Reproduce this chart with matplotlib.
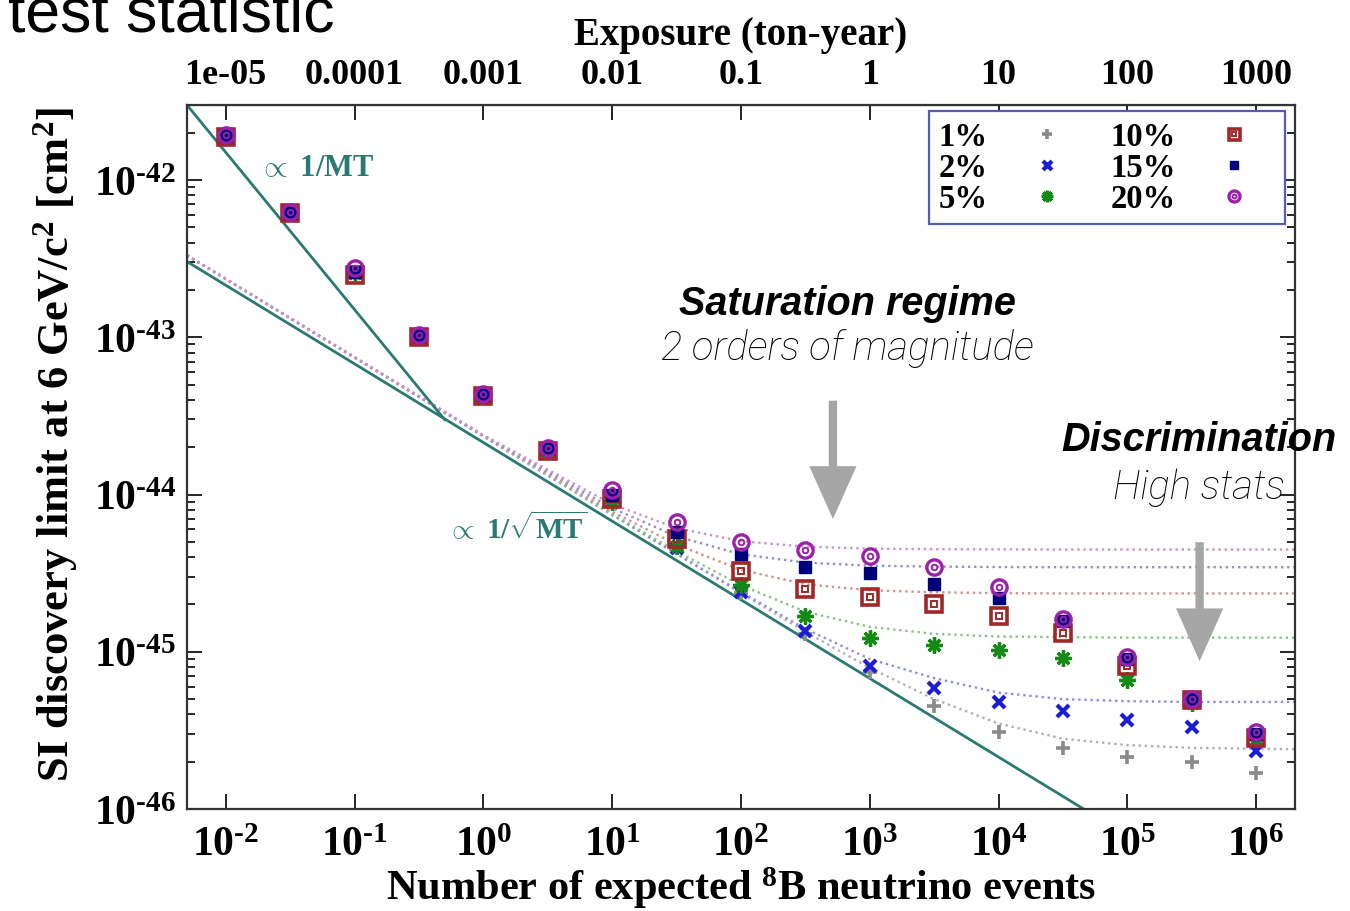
import numpy as np
import matplotlib
matplotlib.use('Agg')
import matplotlib.pyplot as plt

plt.rcParams['font.family'] = ['Liberation Serif', 'DejaVu Serif']
plt.rcParams['font.weight'] = 'bold'
plt.rcParams['axes.labelweight'] = 'bold'
plt.rcParams['mathtext.fontset'] = 'custom'
plt.rcParams['mathtext.rm'] = 'Liberation Serif:bold'
plt.rcParams['mathtext.it'] = 'Liberation Serif:italic:bold'
plt.rcParams['mathtext.bf'] = 'Liberation Serif:bold'
plt.rcParams['mathtext.default'] = 'rm'

# expected number of 8B events (bottom axis) and exposure in ton-year (top axis)
events = [0.01, 0.0316, 0.1, 0.316, 1, 3.16, 10, 31.6, 100, 316, 1000,
          3162, 1e4, 3.16e4, 1e5, 3.16e5, 1e6]

# discovery limit [cm^2] for each flux uncertainty
lim_1 = [1.88e-42, 6.2e-43, 2.55e-43, 1.0e-43, 4.25e-44, 1.9e-44, 8.9e-45, 4.55e-45, 2.35e-45,
         1.3e-45, 7.4e-46, 4.5e-46, 3.1e-46, 2.45e-46, 2.14e-46, 2.0e-46, 1.7e-46]
lim_2 = [1.88e-42, 6.2e-43, 2.55e-43, 1.0e-43, 4.25e-44, 1.9e-44, 8.9e-45, 4.6e-45, 2.4e-45,
         1.35e-45, 8.1e-46, 5.9e-46, 4.8e-46, 4.2e-46, 3.7e-46, 3.3e-46, 2.35e-46]
lim_5 = [1.88e-42, 6.2e-43, 2.55e-43, 1.0e-43, 4.25e-44, 1.9e-44, 9.0e-45, 4.7e-45, 2.65e-45,
         1.7e-45, 1.23e-45, 1.1e-45, 1.02e-45, 9.1e-46, 6.6e-46, 4.7e-46, 2.8e-46]
lim_10 = [1.88e-42, 6.2e-43, 2.5e-43, 1.0e-43, 4.25e-44, 1.9e-44, 9.3e-45, 5.2e-45, 3.25e-45,
          2.5e-45, 2.22e-45, 2.0e-45, 1.7e-45, 1.31e-45, 8.1e-46, 4.9e-46, 2.85e-46]
lim_15 = [1.9e-42, 6.2e-43, 2.6e-43, 1.02e-43, 4.3e-44, 1.95e-44, 1.0e-44, 5.8e-45, 4.2e-45,
          3.45e-45, 3.15e-45, 2.68e-45, 2.19e-45, 1.56e-45, 9.0e-46, 5.0e-46, 3.0e-46]
lim_20 = [1.93e-42, 6.3e-43, 2.75e-43, 1.04e-43, 4.35e-44, 1.98e-44, 1.07e-44, 6.7e-45, 5.0e-45,
          4.47e-45, 4.07e-45, 3.47e-45, 2.57e-45, 1.62e-45, 9.3e-46, 5.0e-46, 3.1e-46]

# saturation curves (dotted)
curve_x = [0.005, 1, 10, 31.6, 100, 316, 1000, 3162, 1e4, 3.16e4, 1e5, 3.16e5, 2e6]
curve_1 = [3.32e-43, 2.35e-44, 7.43e-45, 4.18e-45, 2.36e-45, 1.34e-45, 7.9e-46, 5.0e-46,
           3.5e-46, 2.8e-46, 2.55e-46, 2.45e-46, 2.4e-46]
curve_2 = [3.32e-43, 2.35e-44, 7.45e-45, 4.21e-45, 2.4e-45, 1.4e-45, 9.0e-46, 6.8e-46,
           5.5e-46, 5.0e-46, 4.85e-46, 4.8e-46, 4.8e-46]
curve_5 = [3.32e-43, 2.35e-44, 7.53e-45, 4.36e-45, 2.65e-45, 1.8e-45, 1.44e-45, 1.3e-45,
           1.25e-45, 1.24e-45, 1.23e-45, 1.23e-45, 1.23e-45]
curve_10 = [3.32e-43, 2.36e-44, 7.79e-45, 4.8e-45, 3.32e-45, 2.69e-45, 2.46e-45, 2.39e-45,
            2.36e-45, 2.35e-45, 2.35e-45, 2.35e-45, 2.35e-45]
curve_15 = [3.32e-43, 2.375e-44, 8.19e-45, 5.42e-45, 4.17e-45, 3.69e-45, 3.53e-45, 3.48e-45,
            3.46e-45, 3.45e-45, 3.45e-45, 3.45e-45, 3.45e-45]
curve_20 = [3.32e-43, 2.39e-44, 8.67e-45, 6.12e-45, 5.05e-45, 4.66e-45, 4.53e-45, 4.49e-45,
            4.48e-45, 4.47e-45, 4.47e-45, 4.47e-45, 4.47e-45]

# scaling lines
mt_x = [0.005, 0.5]
mt_y = [3.0e-42, 3.0e-44]
sqrt_x = [0.005, 1e5]
sqrt_y = [3.03e-43, 6.77e-47]

bottom_ticks = [1e-2, 1e-1, 1, 10, 100, 1e3, 1e4, 1e5, 1e6]
bottom_labels = [r'$10^{\text{-}2}$', r'$10^{\text{-}1}$', '$10^{0}$', '$10^{1}$', '$10^{2}$',
                 '$10^{3}$', '$10^{4}$', '$10^{5}$', '$10^{6}$']
top_ticks = [1e-5, 1e-4, 1e-3, 0.01, 0.1, 1, 10, 100, 1000]
top_labels = ['1e-05', '0.0001', '0.001', '0.01', '0.1', '1', '10', '100', '1000']
left_ticks = [1e-46, 1e-45, 1e-44, 1e-43, 1e-42]
left_labels = [r'$10^{\text{-}46}$', r'$10^{\text{-}45}$', r'$10^{\text{-}44}$',
               r'$10^{\text{-}43}$', r'$10^{\text{-}42}$']

teal = '#2b7a72'

fig = plt.figure(figsize=(13.5, 9.12), dpi=100)
ax = fig.add_axes([0.1385, 0.1118, 0.8207, 0.772])
ax.set_xscale('log')
ax.set_yscale('log')
ax.set_xlim(0.005, 2e6)
ax.set_ylim(1e-46, 3e-42)

dots = (0, (1, 1.6))
ax.plot(curve_x, curve_1, color='#b0b0b0', lw=1.7, ls=dots)
ax.plot(curve_x, curve_2, color='#8c8ce8', lw=1.7, ls=dots)
ax.plot(curve_x, curve_5, color='#88c488', lw=1.7, ls=dots)
ax.plot(curve_x, curve_10, color='#d49090', lw=1.7, ls=dots)
ax.plot(curve_x, curve_15, color='#9090d0', lw=1.7, ls=dots)
ax.plot(curve_x, curve_20, color='#cc90cc', lw=1.7, ls=dots)

ax.plot(mt_x, mt_y, color=teal, lw=2.0)
ax.plot(sqrt_x, sqrt_y, color=teal, lw=2.0)

h1, = ax.plot(events, lim_1, ls='none', marker='+', ms=10, mew=2.6, color='#8a8a8a')
h2, = ax.plot(events, lim_2, ls='none', marker='x', ms=9, mew=3.0, color='#1c1cd0')
h5, = ax.plot(events, lim_5, ls='none', marker=(8, 2, 0), ms=11.5, mew=2.4, color='#148a14')
h10, = ax.plot(events, lim_10, ls='none', marker='s', ms=11, mew=2.6, mfc='none', color='#a02828')
h10b, = ax.plot(events, lim_10, ls='none', marker='s', ms=4, mew=1.4, mfc='none', color='#a02828')
h15, = ax.plot(events, lim_15, ls='none', marker='s', ms=8.5, color='#00007a')
h20, = ax.plot(events, lim_20, ls='none', marker='o', ms=11, mew=2.4, mfc='none', color='#9a22a8')
h20b, = ax.plot(events, lim_20, ls='none', marker='o', ms=4, mew=1.4, mfc='none', color='#9a22a8')

leg = ax.legend([h1, h2, h5, (h10, h10b), (h15,), (h20, h20b)],
                ['1%', '2%', '5%', '10%', '15%', '20%'],
                ncol=2, markerfirst=False, loc='upper right', bbox_to_anchor=(0.991, 0.991),
                borderaxespad=0, fontsize=23.5, markerscale=0.72, handlelength=2.5,
                handletextpad=0.55, columnspacing=0.7, labelspacing=0.0, borderpad=0.3,
                fancybox=False, framealpha=1)
leg.get_frame().set_edgecolor('#5a5ab4')
leg.get_frame().set_linewidth(1.6)

ax.set_xticks(bottom_ticks, bottom_labels)
ax.set_yticks(left_ticks, left_labels)
ax.tick_params(which='both', direction='in', top=True, right=True, width=1.2)
ax.tick_params(which='major', length=11, labelsize=30)
ax.tick_params(which='minor', length=6)
ax.tick_params(axis='x', which='major', pad=12)
ax.tick_params(axis='y', which='major', pad=8)
for s in ax.spines.values():
    s.set_linewidth(1.6)
    s.set_color('#333333')

secax = ax.secondary_xaxis('top', functions=(lambda n: n * 1e-3, lambda e: e * 1e3))
secax.set_xticks(top_ticks, top_labels)
secax.tick_params(length=0, labelsize=26, pad=10)
secax.xaxis.set_minor_locator(matplotlib.ticker.NullLocator())
secax.set_xlabel('Exposure (ton-year)', fontsize=28, labelpad=10, fontweight='bold')

ax.set_xlabel(r'Number of expected $^{8}$B neutrino events', fontsize=30.5, labelpad=0)
ax.set_ylabel(r'SI discovery limit at 6 GeV/c$^{2}$ [cm$^{2}$]', fontsize=32, labelpad=2)
ax.yaxis.set_label_coords(-0.097, 0.52)

ax.text(0.065, 0.90, r'$\propto$ 1/MT', transform=ax.transAxes, color=teal, fontsize=22)
ax.text(0.235, 0.385, r'$\propto$ 1/$\sqrt{\mathrm{MT}}$', transform=ax.transAxes,
        color=teal, fontsize=21)

# annotations
ax.annotate('', xy=(0.583, 0.412), xytext=(0.583, 0.58), xycoords='axes fraction',
            arrowprops=dict(facecolor='#a6a6a6', edgecolor='none', width=6, headwidth=34,
                            headlength=38))
ax.annotate('', xy=(0.914, 0.21), xytext=(0.914, 0.379), xycoords='axes fraction',
            arrowprops=dict(facecolor='#a6a6a6', edgecolor='none', width=6, headwidth=34,
                            headlength=38))

heavy = ['Liberation Sans', 'DejaVu Sans']
thin = ['Roboto', 'DejaVu Sans']
fig.text(0.628, 0.655, 'Saturation regime', family=heavy, fontsize=28.5, weight='bold',
         style='italic', ha='center')
fig.text(0.628, 0.605, '2 orders of magnitude', family=thin, fontsize=29, weight='light',
         style='italic', ha='center', color='black')
fig.text(0.990, 0.505, 'Discrimination', family=heavy, fontsize=28.5, weight='bold',
         style='italic', ha='right')
fig.text(0.952, 0.453, 'High stats', family=thin, fontsize=29, weight='light',
         style='italic', ha='right', color='black')

fig.text(0.006, 0.965, 'test statistic', family=heavy, fontsize=45, weight='normal',
         va='baseline', color='black')

fig.savefig('out.png', dpi=100)
